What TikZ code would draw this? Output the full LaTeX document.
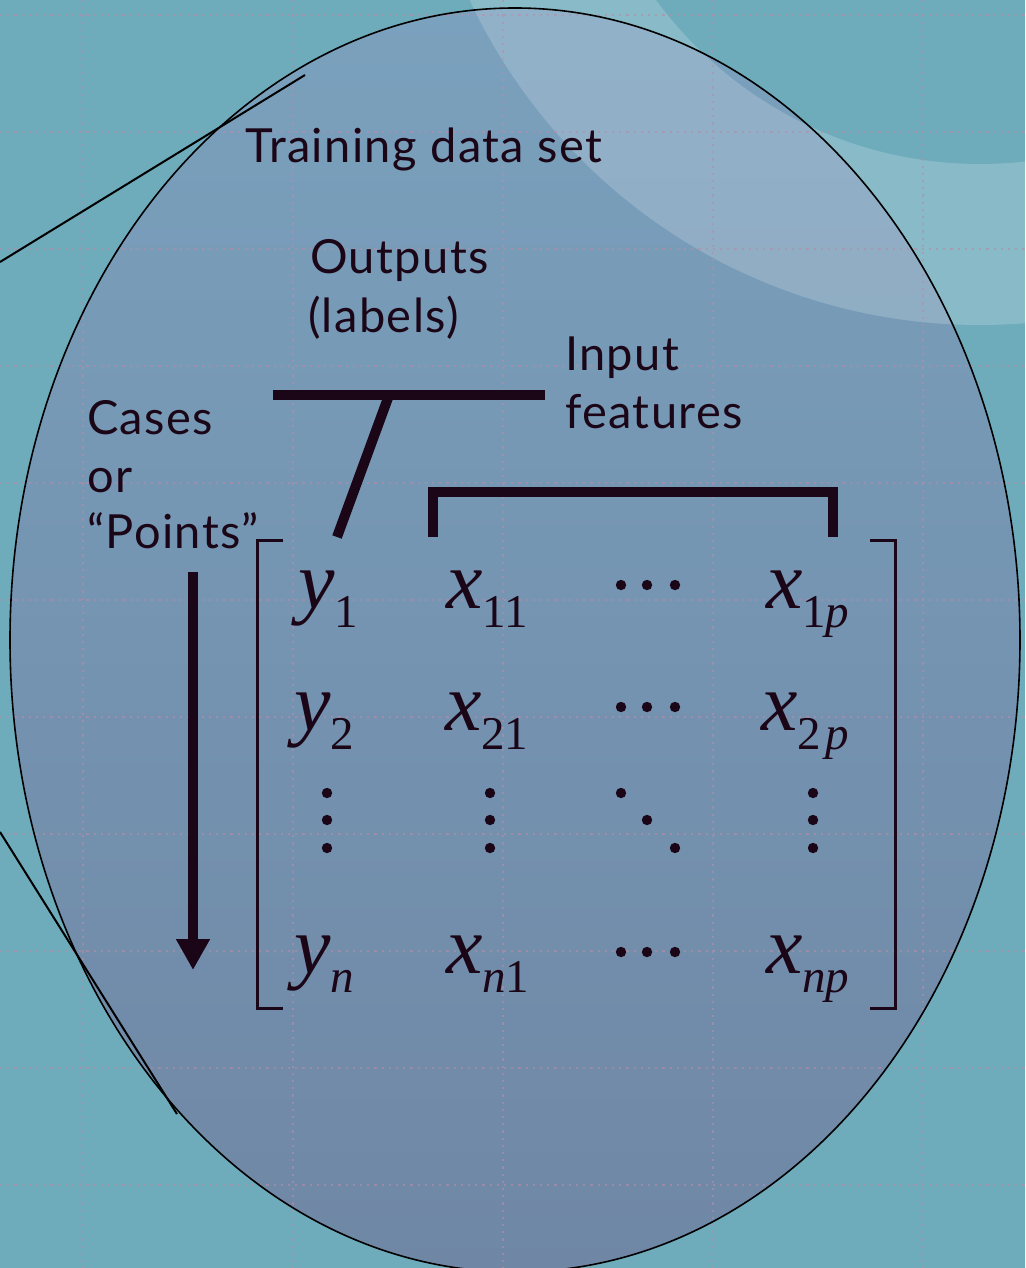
\documentclass[tikz,border=0pt]{standalone}
\usepackage{fontspec}
\setmainfont{Liberation Serif}[ItalicFont={Liberation Serif Italic}]
\newfontfamily\labfont{Lato}[LetterSpace=3]
\usetikzlibrary{arrows.meta}
\definecolor{bg}{HTML}{6EABBB}
\definecolor{ink}{HTML}{1B0617}
\definecolor{elltop}{HTML}{7AA1BD}
\definecolor{ellbot}{HTML}{6F87A5}
\definecolor{gridc}{HTML}{B48EAA}
\newcommand\matent[2]{{\fontsize{82}{82}\selectfont\itshape #1}\raisebox{-19pt}{\fontsize{47}{47}\selectfont #2}}
\begin{document}
\begin{tikzpicture}[x=1pt,y=-1pt,
  lab/.style={anchor=base west, inner sep=0pt, outer sep=0pt, text=ink, font=\labfont\fontsize{47}{58}\selectfont},
  ent/.style={anchor=base west, inner sep=0pt, outer sep=0pt, text=ink},
  bar/.style={draw=ink, line width=10pt, line join=miter, line cap=butt},
  brk/.style={draw=ink, line width=3pt, line join=miter},
  thin/.style={draw=black, line width=2pt},
  gridl/.style={draw=gridc, opacity=0.6, line width=2.2pt, dash pattern=on 2.2pt off 5pt},
  dotm/.style={fill=ink}]
\useasboundingbox (0,0) rectangle (1025,1268);
\fill[bg] (0,0) rectangle (1025,1268);
% ellipse fill
\path[top color=elltop, bottom color=ellbot] (515,640) ellipse [x radius=505pt, y radius=632pt];
% light ring
\fill[white, opacity=0.18, even odd rule] (980,-238) circle (563pt) (980,-238) circle (402pt);
% grid
\foreach \gx in {83,293,503,713,923} \draw[gridl] (\gx,0) -- (\gx,1268);
\foreach \gy in {15,132,249,366,483,600,717,834,951,1068,1185} \draw[gridl] (0,\gy) -- (1025,\gy);
% ellipse outline
\draw[black, line width=1.6pt] (515,640) ellipse [x radius=505pt, y radius=632pt];
% stray callout lines
\coordinate (l1a) at (0,262); \coordinate (l1b) at (305,75);
\coordinate (l2a) at (0,832); \coordinate (l2b) at (177,1114);
\draw[thin] (l1a) -- (l1b);
\draw[thin] (l2a) -- (l2b);
% labels
\node[lab] (train) at (245,163) {Training data set};
\node[lab] (out1) at (310,273) {Outputs};
\node[lab] (out2) at (308,332) {(labels)};
\node[lab] (in1) at (565,370) {Input};
\node[lab] (in2) at (565,428) {features};
\node[lab] (c1) at (87,434) {Cases};
\node[lab] (c2) at (87,492) {or};
\node[lab] (c3) at (87,548) {“Points”};
% outputs pointer
\coordinate (ob1) at (273,395); \coordinate (ob2) at (545,395);
\coordinate (od1) at (388,398); \coordinate (od2) at (337,537);
\draw[bar] (ob1) -- (ob2);
\draw[bar] (od1) -- (od2);
% input bracket
\coordinate (ib1) at (433,537); \coordinate (ib2) at (433,492);
\coordinate (ib3) at (833,492); \coordinate (ib4) at (833,537);
\draw[bar] (ib1) -- (ib2) -- (ib3) -- (ib4);
% cases arrow
\coordinate (ar1) at (193,572); \coordinate (ar2) at (193,970);
\draw[draw=ink, line width=10pt, -{Triangle[length=31pt,width=32pt]}] (ar1) -- (ar2);
% matrix brackets
\coordinate (lb1) at (283,540); \coordinate (lb2) at (257,540);
\coordinate (lb3) at (257,1008); \coordinate (lb4) at (283,1008);
\coordinate (rb1) at (870,540); \coordinate (rb2) at (895,540);
\coordinate (rb3) at (895,1008); \coordinate (rb4) at (870,1008);
\draw[brk] (lb1) -- (lb2) -- (lb3) -- (lb4);
\draw[brk] (rb1) -- (rb2) -- (rb3) -- (rb4);
% matrix entries
\node[ent] (y1) at (298,608) {\matent{y}{1}};
\node[ent] (x11) at (446,608) {\matent{x}{11}};
\node[ent] (x1p) at (766,608) {\matent{x}{1\textit{p}}};
\node[ent] (y2) at (294,730) {\matent{y}{2}};
\node[ent] (x21) at (445,730) {\matent{x}{21}};
\node[ent] (x2p) at (761,730) {\matent{x}{2\kern5pt\textit{p}}};
\node[ent] (yn) at (294,973) {\matent{y}{\textit{n}}};
\node[ent] (xn1) at (446,973) {\matent{x}{\textit{n}1}};
\node[ent] (xnp) at (766,973) {\matent{x}{\textit{np}}};
% cdots
\foreach \ry in {585,707,952} \foreach \rx in {621,647,675} \fill[dotm] (\rx,\ry) circle (5.2pt);
% vdots
\foreach \rx in {327,490,813} \foreach \ry in {793,820,848} \fill[dotm] (\rx,\ry) circle (5.2pt);
% ddots
\fill[dotm] (621,793) circle (5.2pt);
\fill[dotm] (647,820) circle (5.2pt);
\fill[dotm] (675,848) circle (5.2pt);
\end{tikzpicture}
\end{document}
